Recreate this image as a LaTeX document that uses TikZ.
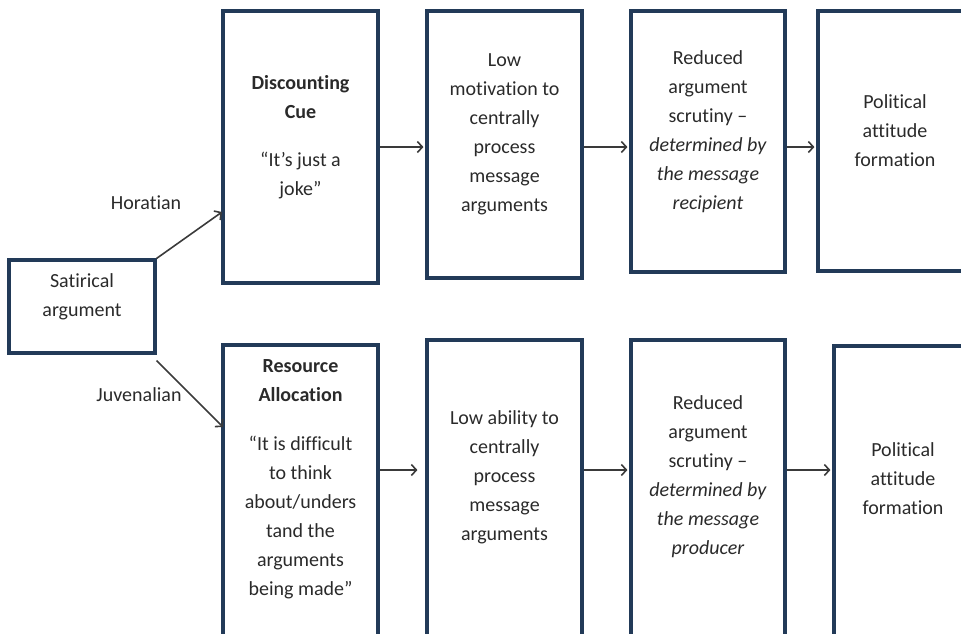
\documentclass[tikz,border=0pt]{standalone}
\usepackage{fontspec}
\setmainfont{Carlito}[Ligatures=NoCommon]
\usetikzlibrary{arrows.meta}
\definecolor{boxline}{HTML}{223A58}
\definecolor{arrowgray}{HTML}{3A3A3A}
\definecolor{txtgray}{HTML}{2A2A2A}
\begin{document}
\begin{tikzpicture}[x=1pt,y=-1pt,
  boxnode/.style={draw=boxline,line width=3.1pt,fill=none,inner sep=0pt,rectangle},
  txt/.style={align=center,text=txtgray,font=\fontsize{20}{29}\selectfont,inner sep=0pt},
  lbl/.style={text=txtgray,font=\fontsize{20}{29}\selectfont,inner sep=0pt},
  flow/.style={draw=arrowgray,line width=1.6pt,-{Straight Barb[length=5pt,width=11pt,line width=1.6pt]}}]
\useasboundingbox (0,0) rectangle (961,633);
% boxes
\node[boxnode,minimum width=146pt,minimum height=93pt] (sat) at (82,306.5) {};
\node[boxnode,minimum width=155pt,minimum height=272pt] (dc) at (300.5,147) {};
\node[boxnode,minimum width=155pt,minimum height=267pt] (lm) at (504.5,144.5) {};
\node[boxnode,minimum width=154pt,minimum height=261pt] (rt) at (708,141.5) {};
\node[boxnode,minimum width=154pt,minimum height=260pt] (pt) at (895,141) {};
\node[boxnode,minimum width=155pt,minimum height=305pt] (ra) at (300.5,497.5) {};
\node[boxnode,minimum width=155pt,minimum height=310pt] (la) at (504.5,495) {};
\node[boxnode,minimum width=154pt,minimum height=310pt] (rb) at (708,495) {};
\node[boxnode,minimum width=138pt,minimum height=304pt] (pb) at (903,498) {};
% texts
\node[txt] (satt) at (82,297) {Satirical\\argument};
\node[txt] (dct) at (300.5,137) {\textbf{Discounting}\\\textbf{Cue}\\[19pt]“It’s just a\\joke”};
\node[txt] (lmt) at (504.5,134.5) {Low\\motivation to\\centrally\\process\\message\\arguments};
\node[txt] (rtt) at (708,132) {Reduced\\argument\\scrutiny –\\\textit{determined by}\\\textit{the message}\\\textit{recipient}};
\node[txt] (ptt) at (895,131) {Political\\attitude\\formation};
\node[txt] (rat) at (300.5,479.5) {\textbf{Resource}\\\textbf{Allocation}\\[20pt]“It is difficult\\to think\\about/unders\\tand the\\arguments\\being made”};
\node[txt] (lat) at (504.5,477) {Low ability to\\centrally\\process\\message\\arguments};
\node[txt] (rbt) at (708,476.5) {Reduced\\argument\\scrutiny –\\\textit{determined by}\\\textit{the message}\\\textit{producer}};
\node[txt] (pbt) at (903,479) {Political\\attitude\\formation};
\node[lbl] (hor) at (146,203) {Horatian};
\node[lbl] (juv) at (139,395) {Juvenalian};
% connectors
\coordinate (hend) at (222,212);
\coordinate (jend) at (223,427);
\draw[flow] (sat.north east) -- (hend);
\draw[flow] ([yshift=-6pt]sat.south east) -- (jend);
\draw[flow] (dc.east |- 0,147) -- ([xshift=-2pt]lm.west |- 0,147);
\draw[flow] (lm.east |- 0,147) -- ([xshift=-2pt]rt.west |- 0,147);
\draw[flow] (rt.east |- 0,147) -- ([xshift=-2pt]pt.west |- 0,147);
\draw[flow] (ra.east |- 0,470) -- ([xshift=-8pt]la.west |- 0,470);
\draw[flow] (la.east |- 0,470) -- ([xshift=-2pt]rb.west |- 0,470);
\draw[flow] (rb.east |- 0,470) -- ([xshift=-2pt]pb.west |- 0,470);
\end{tikzpicture}
\end{document}
